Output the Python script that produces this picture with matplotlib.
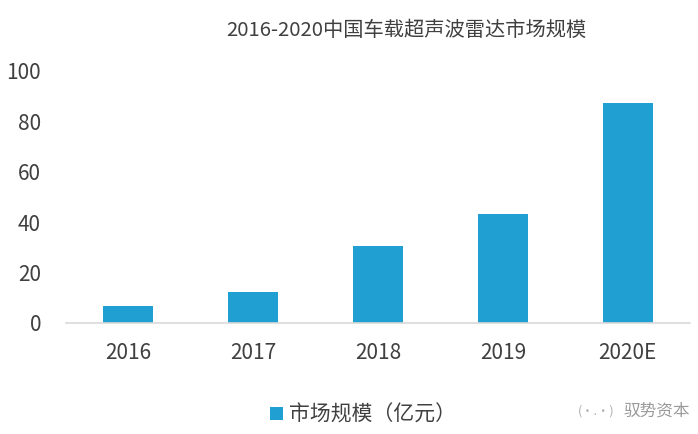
import matplotlib.pyplot as plt

plt.rcParams['font.family'] = ['Noto Sans CJK SC', 'DejaVu Sans']

## data
years = ['2016', '2017', '2018', '2019', '2020E']
market = [6.7, 12.1, 30.7, 43.1, 87.1]
title = '2016-2020中国车载超声波雷达市场规模'
legend_label = '市场规模（亿元）'

bar_color = '#1f9fd2'
txt_color = '#404040'

fig = plt.figure(figsize=(6.98, 4.34), dpi=100)
ax = fig.add_axes([0.0946, 0.2558, 0.894, 0.581])

x = range(len(years))
ax.bar(x, market, width=0.4, color=bar_color, label=legend_label)

ax.set_xlim(-0.5, len(years) - 0.5)
ax.set_ylim(0, 100)
ax.set_yticks(range(0, 101, 20))
ax.set_xticks(list(x))
ax.set_xticklabels(years)
ax.tick_params(axis='both', length=0, labelsize=15, colors=txt_color)
ax.tick_params(axis='x', pad=14)
ax.tick_params(axis='y', pad=18)

for s in ['top', 'right', 'left']:
    ax.spines[s].set_visible(False)
ax.spines['bottom'].set_color('#d9d9d9')
ax.spines['bottom'].set_linewidth(1.2)

fig.text(0.582, 0.93, title, ha='center', va='center', fontsize=14.6, color=txt_color)

##legend at the bottom
leg = fig.legend(loc='center', bbox_to_anchor=(0.52, 0.044), frameon=False,
                 fontsize=15, handlelength=0.6, handleheight=0.6, handletextpad=0.3)
for t in leg.get_texts():
    t.set_color(txt_color)

##watermark
fig.text(0.988, 0.052, '驭势资本', ha='right', va='center', fontsize=12, color='#9a9a9a')
fig.text(0.88, 0.052, '(·.·)', ha='right', va='center', fontsize=9, color='#b0b0b0')

fig.savefig('out.png', dpi=100)
